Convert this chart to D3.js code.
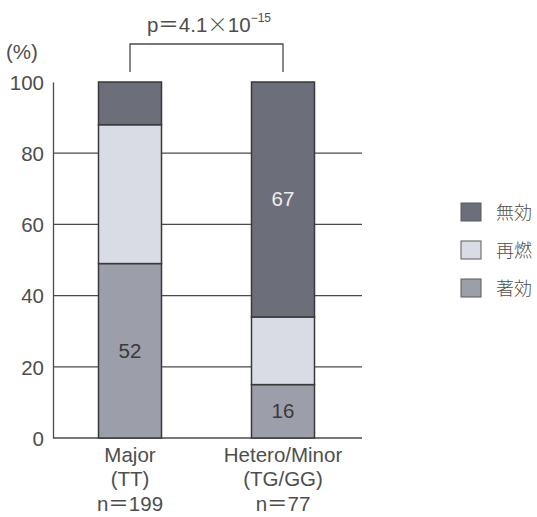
<!DOCTYPE html>
<html><head><meta charset="utf-8">
<script src="https://cdn.jsdelivr.net/npm/d3@7"></script>
<style>body{margin:0;background:#fff}</style>
</head><body>
<svg id="c" width="537" height="517"></svg>
<script>
const categories = ["Major", "Hetero/Minor"];
const subLabels = ["(TT)", "(TG/GG)"];
const nLabels = ["n＝199", "n＝77"];
const seriesNames = ["著効", "再燃", "無効"];
const effective = [49, 15];   // 著効
const relapse = [39, 19];     // 再燃
const noEffect = [12, 66];    // 無効
const shownLabels = [["52", "著効", 0], ["16", "著効", 1], ["67", "無効", 1]];
const yTicks = [0, 20, 40, 60, 80, 100];
const pParts = ["p＝4.1", "×", "10"];
const pExp = "−15";

const colors = {"著効": "#9c9eaa", "再燃": "#d9dce4", "無効": "#6c6e79"};
const textColor = "#4e4e4e";
const font = "'Liberation Sans', Arial, 'Noto Sans CJK JP', sans-serif";
const cjk = "'Noto Sans CJK JP', sans-serif";
const fs = 20.5;

const svg = d3.select("#c");
const y = d3.scaleLinear().domain([0, 100]).range([438, 82]);
const barW = 63;
const xc = d3.scalePoint().domain(categories).range([130, 283]);

// gridlines
svg.append("g").selectAll("line").data(yTicks.filter(d => d > 0 && d < 100)).join("line")
  .attr("x1", 53).attr("x2", 362).attr("y1", d => y(d)).attr("y2", d => y(d))
  .attr("stroke", "#4a4a4a").attr("stroke-width", 1.3);

// axis
const axis = d3.axisLeft(y).tickValues(yTicks).tickSize(0).tickPadding(9);
const ag = svg.append("g").attr("transform", "translate(53,0)").call(axis);
ag.select(".domain").attr("stroke", "#4a4a4a").attr("stroke-width", 1.3);
ag.selectAll("text").attr("font-size", fs).attr("font-family", font).attr("fill", textColor).attr("dy", "0.36em");
svg.append("line").attr("x1", 53).attr("x2", 362).attr("y1", y(0)).attr("y2", y(0))
  .attr("stroke", "#4a4a4a").attr("stroke-width", 1.5);

svg.append("text").attr("x", 22).attr("y", 59).attr("text-anchor", "middle")
  .attr("font-size", fs).attr("font-family", font).attr("fill", textColor).text("(%)");

// stacked data
const rows = categories.map((c, i) => ({cat: c, "著効": effective[i], "再燃": relapse[i], "無効": noEffect[i]}));
const stack = d3.stack().keys(seriesNames)(rows);
const bars = svg.append("g");
stack.forEach(layer => {
  bars.append("g").selectAll("rect").data(layer).join("rect")
    .attr("x", d => xc(d.data.cat) - barW / 2).attr("width", barW)
    .attr("y", d => y(d[1])).attr("height", d => y(d[0]) - y(d[1]))
    .attr("fill", colors[layer.key]).attr("stroke", "#3a3a3a").attr("stroke-width", 1.5);
});

// value labels
shownLabels.forEach(([txt, key, i]) => {
  const layer = stack.find(l => l.key === key)[i];
  svg.append("text").attr("x", xc(categories[i])).attr("y", (y(layer[0]) + y(layer[1])) / 2 + 7)
    .attr("text-anchor", "middle").attr("font-size", fs).attr("font-family", font)
    .attr("fill", key === "無効" ? "#eeeeee" : "#3a3a3a").text(txt);
});

// x labels
categories.forEach((c, i) => {
  const g = svg.append("g").attr("font-size", fs).attr("font-family", font).attr("fill", textColor)
    .attr("text-anchor", "middle");
  g.append("text").attr("x", xc(c)).attr("y", 462).text(c);
  g.append("text").attr("x", xc(c)).attr("y", 486).text(subLabels[i]);
  g.append("text").attr("x", xc(c)).attr("y", 511).text(nLabels[i]);
});

// bracket
const bx1 = xc(categories[0]), bx2 = xc(categories[1]);
svg.append("path").attr("d", `M${bx1},72V44H${bx2}V72`).attr("fill", "none")
  .attr("stroke", "#4a4a4a").attr("stroke-width", 1.3);
const pt = svg.append("text").attr("x", 209).attr("y", 32).attr("text-anchor", "middle")
  .attr("font-size", fs).attr("font-family", font).attr("fill", textColor);
pt.append("tspan").text(pParts[0]);
pt.append("tspan").attr("font-family", cjk).attr("font-weight", 300).text(pParts[1]);
pt.append("tspan").text(pParts[2]);
pt.append("tspan").attr("dy", -10).attr("font-size", 12).text(pExp);

// legend
const legendOrder = ["無効", "再燃", "著効"];
const lg = svg.append("g");
legendOrder.forEach((k, i) => {
  const cy = 212 + i * 38;
  lg.append("rect").attr("x", 461).attr("y", cy - 9).attr("width", 20).attr("height", 18)
    .attr("fill", colors[k]).attr("stroke", "#5a5a5a").attr("stroke-width", 1);
  lg.append("text").attr("x", 496).attr("y", cy + 7).attr("font-size", 18)
    .attr("font-family", cjk).attr("font-weight", 300)
    .attr("fill", textColor).text(k);
});
</script>
</body></html>
